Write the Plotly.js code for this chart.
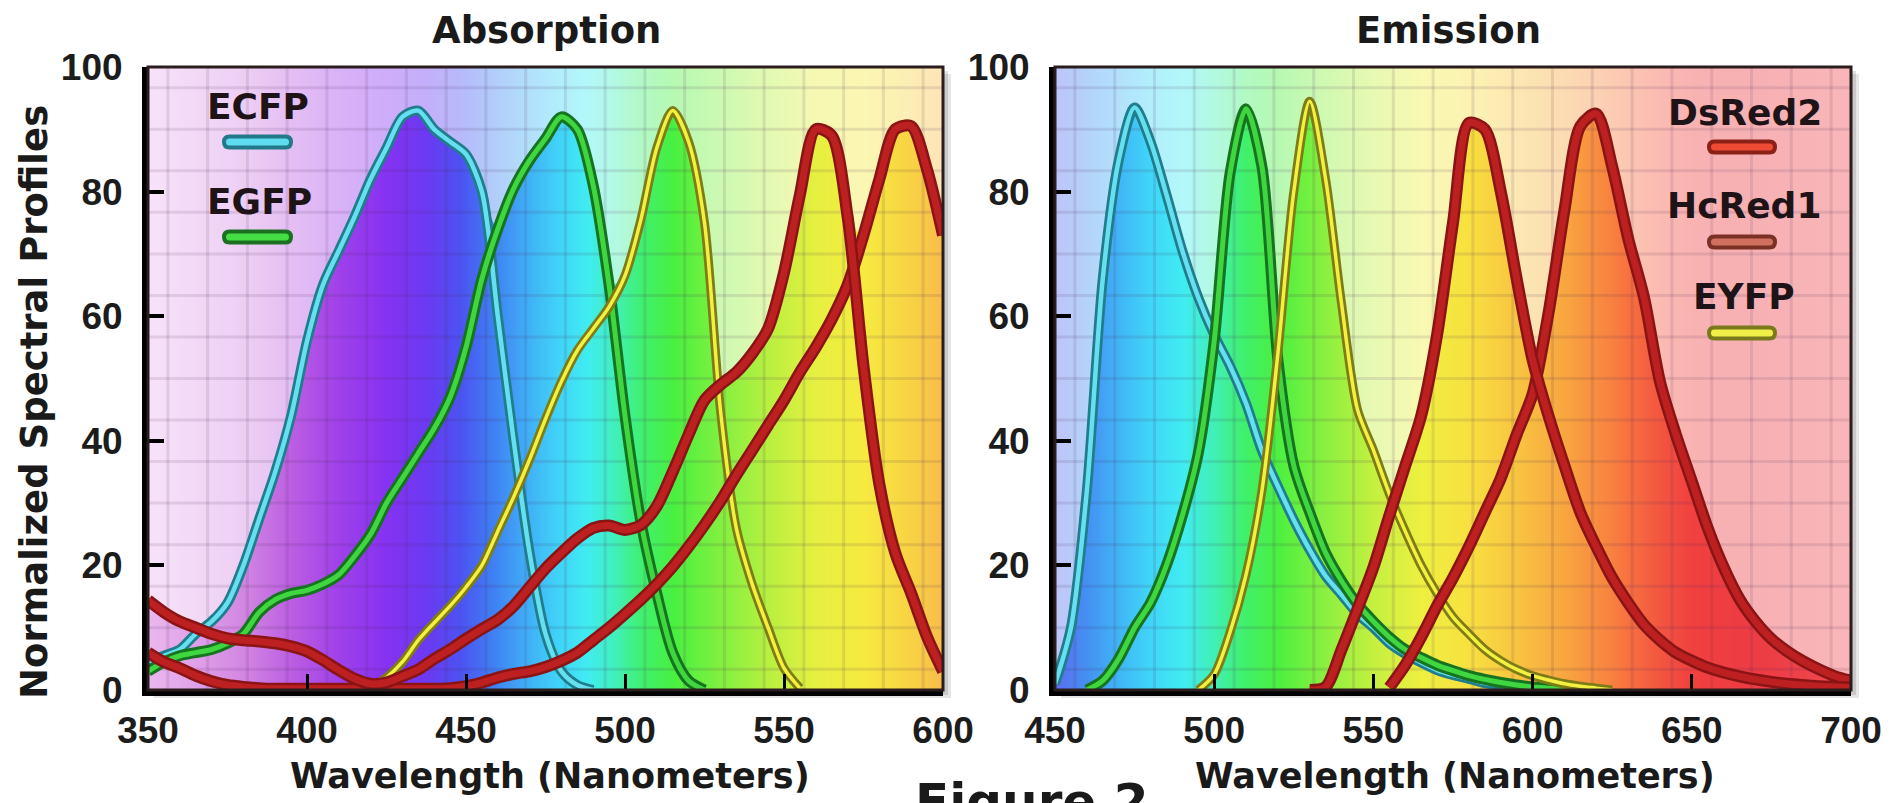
<!DOCTYPE html>
<html>
<head>
<meta charset="utf-8">
<script src="https://cdn.plot.ly/plotly-3.0.1.min.js"></script>
<style>
html,body{margin:0;padding:0;background:#ffffff;}
#chart{width:1895px;height:803px;}
</style>
</head>
<body>
<div id="chart"></div>
<script>
// ---------------- DATA ----------------
const absWavelength = [350,355,360,365,370,375,380,385,390,395,400,405,410,415,420,425,430,435,440,445,450,455,460,465,470,475,480,485,490,495,500,505,510,515,520,525,530,535,540,545,550,555,560,565,570,575,580,585,590,595,600];

const ecfpAbs = [4.5,5.5,6.5,9,11,14,20,27.5,35,44,56,65,70.5,76,82,87,92,93,90,88,86,80,60,40,22,9,3,0.8,0,null,null,null,null,null,null,null,null,null,null,null,null,null,null,null,null,null,null,null,null,null,null];
const egfpAbs = [3,4.5,5.5,6,6.5,7.5,9,12.5,14.5,15.5,16,17,18.5,21.5,25,30,34,38,42,47,55,66,74,80.5,85,88.5,92,90,81,65,44,27,15.5,6,1.5,0,null,null,null,null,null,null,null,null,null,null,null,null,null,null,null];
const eyfpAbs = [null,null,null,null,null,null,null,null,null,null,null,null,null,null,0.3,2,4.5,8,10.8,13.5,16.5,20,25.5,31,37,43.5,49.5,54.5,58,61.5,66.5,75.5,87,93,88,75,45,26,17,10,3.5,0.3,null,null,null,null,null,null,null,null,null];
const dsred2Abs = [14.4,12.5,11,10,9,8.3,8,7.8,7.5,7,6.2,4.8,3.2,1.8,1,1.2,2.2,3.3,5,6.5,8.2,9.8,11.3,13.5,16.5,19.5,22,24.3,26,26.4,25.7,26.5,29.5,35,41,46.5,49,51,54,58,67,79.5,90,89,76,52,33,22,15.5,8.5,3];
const hcred1Abs = [6,4.5,3.5,2.3,1.4,0.8,0.5,0.3,0.2,0.2,0.2,0.2,0.2,0.2,0.2,0.2,0.2,0.2,0.2,0.3,0.6,1.2,2,2.6,3,3.7,4.7,6,8,10,12.2,14.5,17,19.8,23,26.5,30.3,34.5,38.5,42.5,46.5,51,55,59.5,65,73,82,90,90.5,83.5,73];

const emWavelength = [450,455,460,465,470,475,480,485,490,495,500,505,510,515,520,525,530,535,540,545,550,555,560,565,570,575,580,585,590,595,600,605,610,615,620,625,630,635,640,645,650,655,660,665,670,675,680,685,690,695,700];

const ecfpEm = [1,10,32,66,85,93.5,88,79.5,70.5,63,57,52,46,38.4,32.7,27.3,22.5,18.3,15.3,12.2,10,7.5,5.8,4.4,3.2,2.4,1.8,1.1,0.8,0.5,0.3,0.1,null,null,null,null,null,null,null,null,null,null,null,null,null,null,null,null,null,null,null];
const egfpEm = [null,null,0,1.5,5,10,14,20,28,38,56,83,93.3,84,53,36,28.5,22,17.5,13.8,11,8.5,6.5,5.2,4,3.1,2.3,1.7,1.2,0.8,0.5,0.3,0.1,null,null,null,null,null,null,null,null,null,null,null,null,null,null,null,null,null,null];
const eyfpEm = [null,null,null,null,null,null,null,null,null,0,2.5,9.3,18.5,32,54,80,94.5,82,62,45,38.5,31.5,25.5,20,15.5,11.7,9,6.5,4.7,3.3,2.3,1.6,1,0.6,0.3,0,null,null,null,null,null,null,null,null,null,null,null,null,null,null,null];
const dsred2Em = [null,null,null,null,null,null,null,null,null,null,null,null,null,null,null,null,0,0.5,6.5,13,19.7,28,36,44,57,75,91,90,80,66,53,44,36,28.5,23,18,14,10.5,8,6,4.7,3.6,2.8,2.2,1.7,1.3,1,0.8,0.6,0.5,0.4];
const hcred1Em = [null,null,null,null,null,null,null,null,null,null,null,null,null,null,null,null,null,null,null,null,null,0.4,4,8.5,13.5,18,23,28.5,34,41,47.5,60.5,77,90.5,92.5,84,72.5,63,49.5,41,33.5,26,19.7,14.6,11,8.2,6.2,4.6,3.3,2.2,1.5];

const absTickVals = [350,400,450,500,550,600];
const emTickVals  = [450,500,550,600,650,700];
const yTickVals   = [0,20,40,60,80,100];
const proteinNames = ['ECFP','EGFP','EYFP','HcRed1','DsRed2'];

// ---------------- STYLE ----------------
const W = 1895, H = 803;
const px = v => v / W;
const py = v => 1 - v / H;

const lineStyle = {
  ECFP:   {outer:'#1f7d8c', inner:'#66dff0', wo:10, wi:4.5},
  EGFP:   {outer:'#167420', inner:'#40d640', wo:11, wi:5},
  EYFP:   {outer:'#7e7c16', inner:'#f4f040', wo:9,  wi:3.5},
  DsRed2: {outer:'#8a1414', inner:'#bc2020', wo:12, wi:7},
  HcRed1: {outer:'#8a1414', inner:'#bc2020', wo:12, wi:7}
};

const absStops = [[350,'#eab8ee'],[365,'#e0a0e8'],[380,'#d286e2'],[395,'#bc5ee2'],[410,'#a040ea'],[425,'#8632f2'],[438,'#6a3af2'],[448,'#4c52f2'],[458,'#3f7ef2'],[468,'#40aaf6'],[478,'#40d0f8'],[488,'#40ecf2'],[497,'#40f0b8'],[505,'#40f070'],[515,'#48f040'],[530,'#82f040'],[545,'#b8f040'],[560,'#e6f040'],[575,'#f6ea40'],[590,'#f8d244'],[600,'#f8bc4a']];
const emStops = [[450,'#5c6cf0'],[460,'#4590f2'],[470,'#40b6f6'],[480,'#40d6f8'],[490,'#40ecf2'],[500,'#40f0b4'],[510,'#40f068'],[520,'#4cf040'],[535,'#8cf040'],[550,'#c4f040'],[565,'#eef040'],[580,'#f8e040'],[595,'#f8c440'],[610,'#f8a640'],[625,'#f88040'],[638,'#f45a40'],[650,'#f04040'],[670,'#ec3c44'],[700,'#f0484e']];

function buildPanel(wl, series, stops, xa, ya) {
  const traces = [];
  const lo = wl[0], hi = wl[wl.length - 1];
  // spectral background
  const cols = [];
  for (let v = lo; v <= hi; v += 1) cols.push(v);
  traces.push({
    type:'heatmap', x: cols, y:[0,100], z:[cols, cols],
    zmin: lo, zmax: hi, showscale:false, hoverinfo:'skip', zsmooth:'best',
    colorscale: stops.map(s => [(s[0]-lo)/(hi-lo), s[1]]),
    xaxis: xa, yaxis: ya
  });
  // envelope of all curves -> pale wash above it
  const env = wl.map((_, i) => Math.max(0, ...series.map(s => (s.y[i] == null ? 0 : s.y[i]))));
  traces.push({type:'scatter', mode:'lines', x: wl, y: env, line:{width:0, shape:'spline', smoothing:0.8}, hoverinfo:'skip', xaxis:xa, yaxis:ya});
  traces.push({type:'scatter', mode:'lines', x: wl, y: wl.map(() => 100), fill:'tonexty', fillcolor:'rgba(255,255,255,0.6)', line:{width:0}, hoverinfo:'skip', xaxis:xa, yaxis:ya});
  // graph-paper grid
  const gx = [], gy = [];
  for (let v = lo + 6.25; v < hi; v += 12.5) { gx.push(v, v, null); gy.push(0, 100, null); }
  for (let v = 100/30; v < 100; v += 100/15) { gx.push(lo, hi, null); gy.push(v, v, null); }
  traces.push({type:'scatter', mode:'lines', x: gx, y: gy, line:{color:'rgba(70,40,90,0.12)', width:3}, hoverinfo:'skip', xaxis:xa, yaxis:ya});
  // curves
  series.forEach(s => {
    const st = lineStyle[s.name];
    traces.push({type:'scatter', mode:'lines', name:s.name, x: wl, y: s.y, line:{color:st.outer, width:st.wo, shape:'spline', smoothing:0.8}, hoverinfo:'skip', xaxis:xa, yaxis:ya});
    traces.push({type:'scatter', mode:'lines', name:s.name, x: wl, y: s.y, line:{color:st.inner, width:st.wi, shape:'spline', smoothing:0.8}, hoverinfo:'skip', xaxis:xa, yaxis:ya});
  });
  return traces;
}

const absSeries = [
  {name:'ECFP', y: ecfpAbs}, {name:'EGFP', y: egfpAbs}, {name:'EYFP', y: eyfpAbs},
  {name:'HcRed1', y: hcred1Abs}, {name:'DsRed2', y: dsred2Abs}
];
const emSeries = [
  {name:'ECFP', y: ecfpEm}, {name:'EGFP', y: egfpEm}, {name:'EYFP', y: eyfpEm},
  {name:'HcRed1', y: hcred1Em}, {name:'DsRed2', y: dsred2Em}
];

const data = [].concat(
  buildPanel(absWavelength, absSeries, absStops, 'x', 'y'),
  buildPanel(emWavelength, emSeries, emStops, 'x2', 'y2')
);

const tickFont = {family:'Liberation Sans, Arial, sans-serif', size:37, color:'#1c1c1c', weight:700};
function xAxis(dom, rng, ticks, anchor) {
  return {domain: dom, range: rng, tickvals: ticks, ticktext: ticks.map(String), ticks:'inside', ticklen:16, tickwidth:3, tickcolor:'#000',
    showline:true, linewidth:6, linecolor:'#000', showgrid:false, zeroline:false, tickfont: tickFont, anchor: anchor, ticklabelstandoff: 3, fixedrange:true};
}
function yAxis(dom, anchor) {
  return {domain: dom, range:[0,100], tickvals: yTickVals, ticktext: yTickVals.map(String), ticks:'inside', ticklen:16, tickwidth:4, tickcolor:'#000',
    showline:true, linewidth:6, linecolor:'#000', showgrid:false, zeroline:false, tickfont: tickFont, anchor: anchor, ticklabelstandoff: 12, fixedrange:true};
}

const ann = (text, x, y, size, extra) => Object.assign({
  text: '<b>' + text + '</b>', x: px(x), y: py(y), xref:'paper', yref:'paper', showarrow:false,
  font:{family:'DejaVu Sans, sans-serif', size: size, color:'#1a1a1a'}, xanchor:'center', yanchor:'middle'
}, extra || {});

const legendFont = {family:'DejaVu Sans, sans-serif', size:36, color:'#1e1418'};
const annotations = [
  ann('Absorption', 546, 30, 37),
  ann('Emission', 1448, 30, 37),
  ann('Normalized Spectral Profiles', 34, 402, 37, {textangle:-90}),
  ann('Wavelength (Nanometers)', 550, 776, 35),
  ann('Wavelength (Nanometers)', 1455, 776, 35),
  ann('ECFP', 258, 107, 36, {font: legendFont}),
  ann('EGFP', 259, 201, 36, {font: legendFont}),
  ann('DsRed2', 1745, 112, 36, {font: legendFont}),
  ann('HcRed1', 1744, 205, 36, {font: legendFont}),
  ann('EYFP', 1744, 297, 36, {font: legendFont}),
  ann('Figure 2', 913, 771, 50, {xanchor:'left', yanchor:'top'})
];

function pill(x0, x1, yc, h, fill) {
  const r = h / 2;
  const X = v => px(v).toFixed(5), Y = v => py(v).toFixed(5);
  const path = 'M' + X(x0+r) + ',' + Y(yc-r) + ' L' + X(x1-r) + ',' + Y(yc-r) +
    ' Q' + X(x1) + ',' + Y(yc-r) + ' ' + X(x1) + ',' + Y(yc) +
    ' Q' + X(x1) + ',' + Y(yc+r) + ' ' + X(x1-r) + ',' + Y(yc+r) +
    ' L' + X(x0+r) + ',' + Y(yc+r) +
    ' Q' + X(x0) + ',' + Y(yc+r) + ' ' + X(x0) + ',' + Y(yc) +
    ' Q' + X(x0) + ',' + Y(yc-r) + ' ' + X(x0+r) + ',' + Y(yc-r) + ' Z';
  return {type:'path', path: path, xref:'paper', yref:'paper', fillcolor: fill, line:{width:0}, layer:'above'};
}
const swatches = [
  {x0:222, x1:293, y:142, outer:'#23788a', inner:'#5fdcf0'},
  {x0:222, x1:293, y:237, outer:'#1a7020', inner:'#44dd44'},
  {x0:1707, x1:1777, y:147, outer:'#8a2016', inner:'#ee4a34'},
  {x0:1707, x1:1777, y:242, outer:'#7a3024', inner:'#d0705e'},
  {x0:1707, x1:1777, y:333, outer:'#7a7a1c', inner:'#f0f048'}
];
const shapes = [];
// soft drop shadows
[[148,943],[1055,1851]].forEach(d => {
  shapes.push({type:'rect', xref:'paper', yref:'paper', x0:px(d[0]+6), x1:px(d[1]+8), y0:py(698), y1:py(74), fillcolor:'rgba(0,0,0,0.10)', line:{width:0}, layer:'below'});
  shapes.push({type:'rect', xref:'paper', yref:'paper', x0:px(d[0]+3), x1:px(d[1]+5), y0:py(695), y1:py(71), fillcolor:'rgba(0,0,0,0.12)', line:{width:0}, layer:'below'});
});
// top/right frame
shapes.push({type:'rect', xref:'x domain', yref:'y domain', x0:0, x1:1, y0:0, y1:1, line:{color:'#2b1d1d', width:3}, layer:'above'});
shapes.push({type:'rect', xref:'x2 domain', yref:'y2 domain', x0:0, x1:1, y0:0, y1:1, line:{color:'#2b1d1d', width:3}, layer:'above'});
swatches.forEach(s => {
  shapes.push(pill(s.x0, s.x1, s.y, 15, s.outer));
  shapes.push(pill(s.x0 + 4, s.x1 - 4, s.y, 7, s.inner));
});

const layout = {
  width: W, height: H,
  margin: {l:0, r:0, t:0, b:0},
  paper_bgcolor:'#ffffff', plot_bgcolor:'rgba(0,0,0,0)',
  showlegend:false,
  xaxis:  xAxis([px(148), px(943)], [350,600], absTickVals, 'y'),
  yaxis:  yAxis([py(690), py(67)], 'x'),
  xaxis2: xAxis([px(1055), px(1851)], [450,700], emTickVals, 'y2'),
  yaxis2: yAxis([py(690), py(67)], 'x2'),
  annotations: annotations,
  shapes: shapes
};

Plotly.newPlot('chart', data, layout, {staticPlot:true, displayModeBar:false});
</script>
</body>
</html>
